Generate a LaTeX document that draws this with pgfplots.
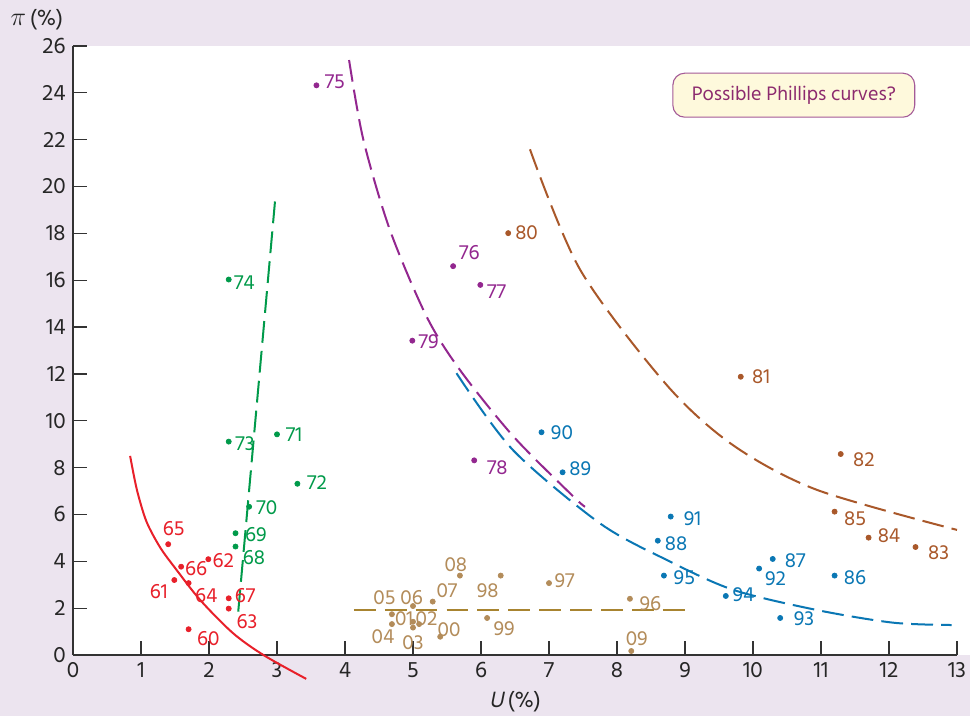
\documentclass[border=0pt]{standalone}
\usepackage{pgfplots}
\pgfplotsset{compat=1.18}
\usepackage{fontspec}
\setmainfont{Hind Madurai}
\newfontfamily\itfont[FakeSlant=0.2]{Hind Madurai}
\definecolor{bglav}{HTML}{ECE4EF}
\definecolor{cred}{HTML}{E8202A}
\definecolor{cgreen}{HTML}{009A4A}
\definecolor{cpurple}{HTML}{93278F}
\definecolor{cbrown}{HTML}{A9582A}
\definecolor{cblue}{HTML}{0A77B4}
\definecolor{ctan}{HTML}{B38C5A}
\definecolor{ctanline}{HTML}{A88430}
\definecolor{boxfill}{HTML}{FEF9DC}
\definecolor{boxdraw}{HTML}{A45A97}
\definecolor{boxtext}{HTML}{8C2A6E}
\newcommand{\labfont}{\fontsize{11.5}{13}\selectfont}
\tikzset{
 lbl/.style={inner sep=0pt, font=\labfont},
 rl/.style={lbl,text=cred},
 gl/.style={lbl,text=cgreen},
 pl/.style={lbl,text=cpurple},
 bl/.style={lbl,text=cbrown},
 ul/.style={lbl,text=cblue},
 tl/.style={lbl,text=ctan},
}
\pgfplotstableread{
x y
1.70 1.10
1.49 3.20
1.99 4.09
2.29 1.98
1.70 3.07
1.40 4.73
1.59 3.77
2.29 2.42
}\reddata
\pgfplotstableread{
x y
2.39 4.63
2.39 5.20
2.59 6.33
3.00 9.42
3.30 7.31
2.29 9.11
2.29 16.03
}\greendata
\pgfplotstableread{
x y
3.58 24.32
5.59 16.60
5.99 15.80
5.90 8.31
4.99 13.42
}\purpledata
\pgfplotstableread{
x y
6.40 18.01
9.82 11.88
11.29 8.58
12.39 4.61
11.70 5.01
11.20 6.12
}\browndata
\pgfplotstableread{
x y
11.20 3.39
10.29 4.10
8.60 4.88
7.20 7.80
6.89 9.51
8.79 5.91
10.09 3.69
10.40 1.58
9.60 2.52
8.69 3.39
}\bluedata
\pgfplotstableread{
x y
8.19 2.40
7.00 3.07
6.29 3.39
6.09 1.58
5.40 0.78
5.00 1.42
5.09 1.32
5.00 1.17
4.69 1.32
4.69 1.74
5.00 2.09
5.29 2.28
5.69 3.39
8.21 0.17
}\tandata
\begin{document}
\begin{tikzpicture}
\path[use as bounding box] (-40.15pt,-33.55pt) rectangle (493.35pt,360.25pt);
\fill[bglav] (-40.15pt,-33.55pt) rectangle (493.35pt,360.25pt);
\fill[white] (0,0) rectangle (493.35pt,334.95pt);
\begin{axis}[
 at={(0,0)}, anchor=south west,
 scale only axis, width=486.2pt, height=334.95pt,
 xmin=0, xmax=13, ymin=0, ymax=26,
 axis x line*=bottom, axis y line*=left,
 axis line style={color=black!80, line width=0.7pt, -},
 xtick={0,1,...,13}, ytick={0,2,...,26},
 tick align=inside,
 major tick length=7.5pt,
 tick style={black!80, line width=0.7pt},
 ticklabel style={font=\fontsize{12.5}{14}\selectfont, text=black!85},
 /pgf/number format/assume math mode=true,
 xticklabel style={yshift=-0.5pt},
 yticklabel style={xshift=-0.5pt},
 clip=false,
 dashline/.style={line width=1.1pt, dash pattern=on 12pt off 4.5pt},
 dotmark/.style={only marks, mark=*, mark size=1.4pt},
]
% curves
\addplot[cred, line width=1.1pt, smooth] coordinates {(0.84,8.5) (0.94,7.05) (1.08,5.7) (1.28,4.6) (1.5,3.72) (1.87,2.35) (2.35,0.94) (2.8,0) (3.43,-1.02)};
\addplot[cgreen, dashline] coordinates {(2.43,1.85) (2.98,19.67)};
\addplot[cpurple, dashline, smooth] coordinates {(4.06,25.4) (4.27,22.0) (4.66,18.15) (5.20,14.45) (5.69,12.17) (6.48,9.32) (7.36,6.76) (7.53,6.33)};
\addplot[cblue, dashline, smooth] coordinates {(5.64,12.03) (6.47,8.75) (7.75,5.62) (8.73,4.06) (9.71,2.78) (10.94,1.92) (12.06,1.38) (12.92,1.28)};
\addplot[cbrown, dashline, smooth] coordinates {(6.72,21.59) (7.46,16.44) (8.73,11.53) (9.71,8.95) (10.94,7.05) (13.0,5.34)};
\addplot[ctanline, line width=1.1pt, dash pattern=on 12pt off 5pt] coordinates {(4.13,1.9) (9.03,1.9)};
% dots
\addplot[cred, dotmark] table {\reddata};
\addplot[cgreen, dotmark] table {\greendata};
\addplot[cpurple, dotmark] table {\purpledata};
\addplot[cbrown, dotmark] table {\browndata};
\addplot[cblue, dotmark] table {\bluedata};
\addplot[ctan, dotmark] table {\tandata};
% labels red
\node[rl] at (axis cs:1.48,5.41) {65};
\node[rl] at (axis cs:1.81,3.67) {66};
\node[rl] at (axis cs:2.21,4.01) {62};
\node[rl] at (axis cs:1.26,2.70) {61};
\node[rl] at (axis cs:1.96,2.55) {64};
\node[rl] at (axis cs:2.53,2.55) {67};
\node[rl] at (axis cs:2.56,1.41) {63};
\node[rl] at (axis cs:1.99,0.71) {60};
% green
\node[gl] at (axis cs:2.52,15.88) {74};
\node[gl] at (axis cs:2.53,9.04) {73};
\node[gl] at (axis cs:3.25,9.39) {71};
\node[gl] at (axis cs:3.59,7.36) {72};
\node[gl] at (axis cs:2.85,6.31) {70};
\node[gl] at (axis cs:2.69,5.12) {69};
\node[gl] at (axis cs:2.66,4.18) {68};
% purple
\node[pl] at (axis cs:3.85,24.47) {75};
\node[pl] at (axis cs:5.83,17.16) {76};
\node[pl] at (axis cs:6.23,15.51) {77};
\node[pl] at (axis cs:5.23,13.38) {79};
\node[pl] at (axis cs:6.24,8.00) {78};
% brown
\node[bl] at (axis cs:6.67,18.02) {80};
\node[bl] at (axis cs:10.12,11.88) {81};
\node[bl] at (axis cs:11.63,8.33) {82};
\node[bl] at (axis cs:11.50,5.81) {85};
\node[bl] at (axis cs:12.00,5.09) {84};
\node[bl] at (axis cs:12.73,4.38) {83};
% blue
\node[ul] at (axis cs:7.19,9.51) {90};
\node[ul] at (axis cs:7.46,7.97) {89};
\node[ul] at (axis cs:9.11,5.84) {91};
\node[ul] at (axis cs:8.87,4.75) {88};
\node[ul] at (axis cs:8.99,3.29) {95};
\node[ul] at (axis cs:9.86,2.56) {94};
\node[ul] at (axis cs:10.75,1.55) {93};
\node[ul] at (axis cs:10.33,3.26) {92};
\node[ul] at (axis cs:10.62,4.03) {87};
\node[ul] at (axis cs:11.50,3.32) {86};
% tan
\node[tl] at (axis cs:5.63,3.87) {08};
\node[tl] at (axis cs:6.10,2.76) {98};
\node[tl] at (axis cs:7.23,3.19) {97};
\node[tl] at (axis cs:5.50,2.76) {07};
\node[tl] at (axis cs:4.98,2.46) {06};
\node[tl] at (axis cs:4.58,2.46) {05};
\node[tl] at (axis cs:4.87,1.55) {01};
\node[tl] at (axis cs:5.20,1.55) {02};
\node[tl] at (axis cs:4.56,0.78) {04};
\node[tl] at (axis cs:5.00,0.51) {03};
\node[tl] at (axis cs:5.53,1.07) {00};
\node[tl] at (axis cs:6.34,1.11) {99};
\node[tl] at (axis cs:8.49,2.21) {96};
\node[tl] at (axis cs:8.29,0.70) {09};
% axis labels
\node[inner sep=0pt, font=\fontsize{12.5}{14}\selectfont, text=black!85] at (axis cs:-0.53,27.11) {{\fontsize{15}{16}\selectfont$\pi$}\,(\%)};
\node[inner sep=0pt, font=\fontsize{12.5}{14}\selectfont, text=black!85] at (axis cs:6.5,-2.0) {{\itfont U}\,(\%)};
% box
\node[draw=boxdraw, fill=boxfill, line width=0.6pt, rounded corners=6.5pt, minimum width=133pt, minimum height=24.2pt, text=boxtext, font=\fontsize{11}{13}\selectfont] at (axis cs:10.60,23.90) {Possible Phillips curves?};
\end{axis}
\end{tikzpicture}
\end{document}
